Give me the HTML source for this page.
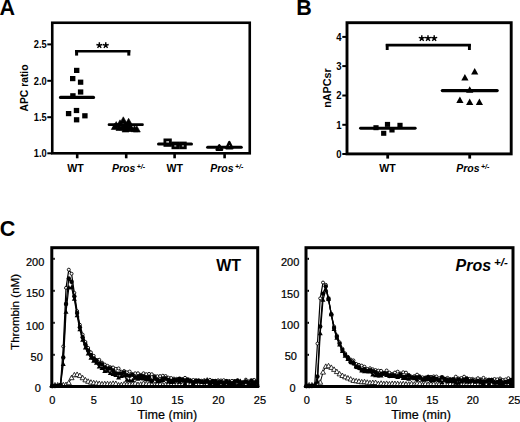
<!DOCTYPE html>
<html><head><meta charset="utf-8"><style>
html,body{margin:0;padding:0;background:#fff;}
svg{display:block;font-family:"Liberation Sans", sans-serif;}
</style></head><body>
<svg width="520" height="422" viewBox="0 0 520 422">
<rect width="520" height="422" fill="#fff"/>
<text x="-0.5" y="14.8" font-size="21.5" font-weight="bold" font-style="normal" text-anchor="start" >A</text>
<rect x="52.25" y="22.75" width="197.5" height="130.55" fill="none" stroke="#000" stroke-width="2.6"/>
<line x1="47.3" y1="44.4" x2="52.25" y2="44.4" stroke="#000" stroke-width="2" stroke-linecap="butt"/>
<text transform="translate(46.7,48.10) scale(0.86,1)" font-size="10.8" font-weight="bold" text-anchor="end">2.5</text>
<line x1="47.3" y1="80.8" x2="52.25" y2="80.8" stroke="#000" stroke-width="2" stroke-linecap="butt"/>
<text transform="translate(46.7,84.50) scale(0.86,1)" font-size="10.8" font-weight="bold" text-anchor="end">2.0</text>
<line x1="47.3" y1="117.2" x2="52.25" y2="117.2" stroke="#000" stroke-width="2" stroke-linecap="butt"/>
<text transform="translate(46.7,120.90) scale(0.86,1)" font-size="10.8" font-weight="bold" text-anchor="end">1.5</text>
<line x1="47.3" y1="153.3" x2="52.25" y2="153.3" stroke="#000" stroke-width="2" stroke-linecap="butt"/>
<text transform="translate(46.7,157.00) scale(0.86,1)" font-size="10.8" font-weight="bold" text-anchor="end">1.0</text>
<line x1="77.2" y1="153.3" x2="77.2" y2="158.3" stroke="#000" stroke-width="2.6" stroke-linecap="butt"/>
<line x1="126.2" y1="153.3" x2="126.2" y2="158.3" stroke="#000" stroke-width="2.6" stroke-linecap="butt"/>
<line x1="174.6" y1="153.3" x2="174.6" y2="158.3" stroke="#000" stroke-width="2.6" stroke-linecap="butt"/>
<line x1="224.6" y1="153.3" x2="224.6" y2="158.3" stroke="#000" stroke-width="2.6" stroke-linecap="butt"/>
<text x="75.5" y="171.5" font-size="10.6" font-weight="bold" font-style="normal" text-anchor="middle" >WT</text>
<text x="111.9" y="171.6" font-size="10.5" font-weight="bold" font-style="italic" text-anchor="start">Pros<tspan font-size="7" dx="1.4" dy="-2.6">+/-</tspan></text>
<text x="174.7" y="171.6" font-size="10.6" font-weight="bold" font-style="normal" text-anchor="middle" >WT</text>
<text x="210.2" y="171.6" font-size="10.5" font-weight="bold" font-style="italic" text-anchor="start">Pros<tspan font-size="7" dx="1.4" dy="-2.6">+/-</tspan></text>
<text transform="translate(28,88) rotate(-90)" x="0" y="0" font-size="10.3" font-weight="bold" text-anchor="middle">APC ratio</text>
<line x1="75.1" y1="51.25" x2="130.3" y2="51.25" stroke="#000" stroke-width="2.7" stroke-linecap="butt"/>
<line x1="76.6" y1="50" x2="76.6" y2="55.6" stroke="#000" stroke-width="3" stroke-linecap="butt"/>
<line x1="128.8" y1="50" x2="128.8" y2="55.6" stroke="#000" stroke-width="3" stroke-linecap="butt"/>
<path d="M99.35,45.40 L99.35,42.30 M99.35,45.40 L102.30,44.44 M99.35,45.40 L101.17,47.91 M99.35,45.40 L97.53,47.91 M99.35,45.40 L96.40,44.44 " stroke="#000" stroke-width="1.45" stroke-linecap="butt" fill="none"/>
<polygon points="99.35,43.70 99.90,44.65 100.97,44.87 100.23,45.69 100.35,46.78 99.35,46.33 98.35,46.78 98.47,45.69 97.73,44.87 98.80,44.65" fill="#000"/>
<path d="M105.75,45.40 L105.75,42.30 M105.75,45.40 L108.70,44.44 M105.75,45.40 L107.57,47.91 M105.75,45.40 L103.93,47.91 M105.75,45.40 L102.80,44.44 " stroke="#000" stroke-width="1.45" stroke-linecap="butt" fill="none"/>
<polygon points="105.75,43.70 106.30,44.65 107.37,44.87 106.63,45.69 106.75,46.78 105.75,46.33 104.75,46.78 104.87,45.69 104.13,44.87 105.20,44.65" fill="#000"/>
<rect x="74.0" y="67.80000000000001" width="5.4" height="5.2" fill="#000"/>
<rect x="70.0" y="76.0" width="5.4" height="5.2" fill="#000"/>
<rect x="77.89999999999999" y="79.60000000000001" width="5.4" height="5.2" fill="#000"/>
<rect x="77.89999999999999" y="89.4" width="5.4" height="5.2" fill="#000"/>
<rect x="70.2" y="93.2" width="5.4" height="5.2" fill="#000"/>
<rect x="73.8" y="107.9" width="5.4" height="5.2" fill="#000"/>
<rect x="65.89999999999999" y="111.0" width="5.4" height="5.2" fill="#000"/>
<rect x="82.2" y="113.2" width="5.4" height="5.2" fill="#000"/>
<rect x="73.89999999999999" y="117.2" width="5.4" height="5.2" fill="#000"/>
<line x1="60.5" y1="97.4" x2="93.5" y2="97.4" stroke="#000" stroke-width="3.2" stroke-linecap="round"/>
<polygon points="116.2,121.6 112.7,127.8 119.7,127.8" fill="#000" stroke="#000" stroke-width="0.6" stroke-linejoin="round"/>
<polygon points="114.8,123.3 111.3,129.5 118.3,129.5" fill="#000" stroke="#000" stroke-width="0.6" stroke-linejoin="round"/>
<polygon points="120,119.8 116.5,126.0 123.5,126.0" fill="#000" stroke="#000" stroke-width="0.6" stroke-linejoin="round"/>
<polygon points="123.3,116.8 119.8,123.0 126.8,123.0" fill="#000" stroke="#000" stroke-width="0.6" stroke-linejoin="round"/>
<polygon points="128.6,118.3 125.1,124.5 132.1,124.5" fill="#000" stroke="#000" stroke-width="0.6" stroke-linejoin="round"/>
<polygon points="125,121.8 121.5,128.0 128.5,128.0" fill="#000" stroke="#000" stroke-width="0.6" stroke-linejoin="round"/>
<polygon points="125.5,125.8 122.0,132.0 129.0,132.0" fill="#000" stroke="#000" stroke-width="0.6" stroke-linejoin="round"/>
<polygon points="131,125.3 127.5,131.5 134.5,131.5" fill="#000" stroke="#000" stroke-width="0.6" stroke-linejoin="round"/>
<polygon points="134.5,125.5 131.0,131.7 138.0,131.7" fill="#000" stroke="#000" stroke-width="0.6" stroke-linejoin="round"/>
<polygon points="136.8,125.8 133.3,132.0 140.3,132.0" fill="#000" stroke="#000" stroke-width="0.6" stroke-linejoin="round"/>
<polygon points="119.5,124.3 116.0,130.5 123.0,130.5" fill="#000" stroke="#000" stroke-width="0.6" stroke-linejoin="round"/>
<polygon points="122.5,123.8 119.0,130.0 126.0,130.0" fill="#000" stroke="#000" stroke-width="0.6" stroke-linejoin="round"/>
<polygon points="130,122.8 126.5,129.0 133.5,129.0" fill="#000" stroke="#000" stroke-width="0.6" stroke-linejoin="round"/>
<polygon points="127.5,124.8 124.0,131.0 131.0,131.0" fill="#000" stroke="#000" stroke-width="0.6" stroke-linejoin="round"/>
<line x1="109" y1="124.7" x2="142.5" y2="124.7" stroke="#000" stroke-width="2.7" stroke-linecap="round"/>
<rect x="164.9" y="139.9" width="5.5" height="5.5" fill="#fff" stroke="#000" stroke-width="2.8"/>
<rect x="172.9" y="143.0" width="4.8" height="4.8" fill="#fff" stroke="#000" stroke-width="2.8"/>
<rect x="180.5" y="143.0" width="4.8" height="4.8" fill="#fff" stroke="#000" stroke-width="2.8"/>
<line x1="158.5" y1="143.9" x2="191.5" y2="143.9" stroke="#000" stroke-width="3.0" stroke-linecap="round"/>
<polygon points="219.3,145.3 216.6,149.7 222.1,149.7" fill="#fff" stroke="#000" stroke-width="2.4" stroke-linejoin="round"/>
<polygon points="229.3,142.1 226.4,148.3 232.4,148.3" fill="#fff" stroke="#000" stroke-width="2.4" stroke-linejoin="round"/>
<line x1="207.6" y1="147.2" x2="241.3" y2="147.2" stroke="#000" stroke-width="3.0" stroke-linecap="round"/>
<text x="296.2" y="14.95" font-size="21.5" font-weight="bold" font-style="normal" text-anchor="start" >B</text>
<rect x="347.0" y="22.7" width="164.2" height="131.20000000000002" fill="none" stroke="#000" stroke-width="2.9"/>
<line x1="342.3" y1="36.9" x2="347.0" y2="36.9" stroke="#000" stroke-width="2" stroke-linecap="butt"/>
<text transform="translate(341.6,40.60) scale(0.9,1)" font-size="10.6" font-weight="bold" text-anchor="end">4</text>
<line x1="342.3" y1="66.1" x2="347.0" y2="66.1" stroke="#000" stroke-width="2" stroke-linecap="butt"/>
<text transform="translate(341.6,69.80) scale(0.9,1)" font-size="10.6" font-weight="bold" text-anchor="end">3</text>
<line x1="342.3" y1="95.5" x2="347.0" y2="95.5" stroke="#000" stroke-width="2" stroke-linecap="butt"/>
<text transform="translate(341.6,99.20) scale(0.9,1)" font-size="10.6" font-weight="bold" text-anchor="end">2</text>
<line x1="342.3" y1="124.8" x2="347.0" y2="124.8" stroke="#000" stroke-width="2" stroke-linecap="butt"/>
<text transform="translate(341.6,128.50) scale(0.9,1)" font-size="10.6" font-weight="bold" text-anchor="end">1</text>
<line x1="342.3" y1="154.0" x2="347.0" y2="154.0" stroke="#000" stroke-width="2" stroke-linecap="butt"/>
<text transform="translate(341.6,157.70) scale(0.9,1)" font-size="10.6" font-weight="bold" text-anchor="end">0</text>
<line x1="387.7" y1="153.9" x2="387.7" y2="158.6" stroke="#000" stroke-width="2.8" stroke-linecap="butt"/>
<line x1="469.7" y1="153.9" x2="469.7" y2="158.6" stroke="#000" stroke-width="2.8" stroke-linecap="butt"/>
<text x="387.6" y="171.6" font-size="10.6" font-weight="bold" font-style="normal" text-anchor="middle" >WT</text>
<text x="456.2" y="171.6" font-size="10.5" font-weight="bold" font-style="italic" text-anchor="start">Pros<tspan font-size="7" dx="1.4" dy="-2.6">+/-</tspan></text>
<text transform="translate(331.2,88.0) rotate(-90)" x="0" y="0" font-size="10.8" font-weight="bold" text-anchor="middle">nAPCsr</text>
<line x1="385.8" y1="45.15" x2="470.8" y2="45.15" stroke="#000" stroke-width="2.7" stroke-linecap="butt"/>
<line x1="387.2" y1="44" x2="387.2" y2="50" stroke="#000" stroke-width="2.9" stroke-linecap="butt"/>
<line x1="469.4" y1="44" x2="469.4" y2="50" stroke="#000" stroke-width="2.9" stroke-linecap="butt"/>
<path d="M421.80,38.30 L421.80,35.15 M421.80,38.30 L424.80,37.33 M421.80,38.30 L423.65,40.85 M421.80,38.30 L419.95,40.85 M421.80,38.30 L418.80,37.33 " stroke="#000" stroke-width="1.45" stroke-linecap="butt" fill="none"/>
<polygon points="421.80,36.57 422.36,37.54 423.45,37.76 422.70,38.59 422.82,39.70 421.80,39.24 420.78,39.70 420.90,38.59 420.15,37.76 421.24,37.54" fill="#000"/>
<path d="M428.00,38.30 L428.00,35.15 M428.00,38.30 L431.00,37.33 M428.00,38.30 L429.85,40.85 M428.00,38.30 L426.15,40.85 M428.00,38.30 L425.00,37.33 " stroke="#000" stroke-width="1.45" stroke-linecap="butt" fill="none"/>
<polygon points="428.00,36.57 428.56,37.54 429.65,37.76 428.90,38.59 429.02,39.70 428.00,39.24 426.98,39.70 427.10,38.59 426.35,37.76 427.44,37.54" fill="#000"/>
<path d="M434.20,38.30 L434.20,35.15 M434.20,38.30 L437.20,37.33 M434.20,38.30 L436.05,40.85 M434.20,38.30 L432.35,40.85 M434.20,38.30 L431.20,37.33 " stroke="#000" stroke-width="1.45" stroke-linecap="butt" fill="none"/>
<polygon points="434.20,36.57 434.76,37.54 435.85,37.76 435.10,38.59 435.22,39.70 434.20,39.24 433.18,39.70 433.30,38.59 432.55,37.76 433.64,37.54" fill="#000"/>
<rect x="373.4" y="125.2" width="5.2" height="5.0" fill="#000"/>
<rect x="384.9" y="121.9" width="5.2" height="5.0" fill="#000"/>
<rect x="389.4" y="127.5" width="5.2" height="5.0" fill="#000"/>
<rect x="381.09999999999997" y="130.8" width="5.2" height="5.0" fill="#000"/>
<rect x="397.4" y="122.8" width="5.2" height="5.0" fill="#000"/>
<line x1="360.5" y1="128.3" x2="415.2" y2="128.3" stroke="#000" stroke-width="2.9" stroke-linecap="round"/>
<polygon points="474.7,68.1 471.09999999999997,74.6 478.3,74.6" fill="#000"/>
<polygon points="464.9,74.1 461.29999999999995,80.6 468.5,80.6" fill="#000"/>
<polygon points="469.7,86.2 466.09999999999997,92.7 473.3,92.7" fill="#000"/>
<polygon points="459.9,96.6 456.29999999999995,103.1 463.5,103.1" fill="#000"/>
<polygon points="469.7,98.4 466.09999999999997,104.9 473.3,104.9" fill="#000"/>
<polygon points="479.4,98.4 475.79999999999995,104.9 483.0,104.9" fill="#000"/>
<line x1="442.3" y1="90.6" x2="497.2" y2="90.6" stroke="#000" stroke-width="3.2" stroke-linecap="round"/>
<g>
<path d="M52.20,385.20 L54.97,385.19 L57.73,385.14 L60.50,385.06 L63.27,384.95 L66.03,384.74 L68.80,382.92 L71.57,377.90 L74.33,375.05 L77.10,374.64 L79.87,375.75 L82.63,377.95 L85.40,380.07 L88.17,381.48 L90.93,382.39 L93.70,382.96 L96.47,383.30 L99.23,383.68 L102.00,384.03 L104.77,383.93 L107.53,383.91 L110.30,384.08 L113.07,383.53 L115.83,383.69 L118.60,385.15 L121.37,384.87 L124.13,384.24 L126.90,384.36 L129.67,384.14 L132.43,384.16 L135.20,383.45 L137.97,384.71 L140.73,384.45 L143.50,383.53 L146.27,384.09 L149.03,384.10 L151.80,384.57 L154.57,385.02 L157.33,384.34 L160.10,384.38 L162.87,384.91 L165.63,384.72 L168.40,384.50 L171.17,384.85 L173.93,384.54 L176.70,384.48 L179.47,384.52 L182.23,384.74 L185.00,384.34 L187.77,384.24 L190.53,384.47 L193.30,384.93 L196.07,384.35 L198.83,384.83 L201.60,384.32 L204.37,385.08 L207.13,384.33 L209.90,384.70 L212.67,385.19 L215.43,384.84 L218.20,384.72 L220.97,384.64 L223.73,385.14 L226.50,385.20 L229.27,384.71 L232.03,384.97 L234.80,384.72 L237.57,384.53 L240.33,385.46 L243.10,384.74 L245.87,384.38 L248.63,384.97 L251.40,385.17 L254.17,384.58 L256.93,384.78" fill="none" stroke="#000" stroke-width="1.0"/>
<polygon points="52.20,382.50 49.70,387.00 54.70,387.00" fill="#fff" stroke="#000" stroke-width="0.8"/>
<polygon points="54.97,382.49 52.47,386.99 57.47,386.99" fill="#fff" stroke="#000" stroke-width="0.8"/>
<polygon points="57.73,382.44 55.23,386.94 60.23,386.94" fill="#fff" stroke="#000" stroke-width="0.8"/>
<polygon points="60.50,382.36 58.00,386.86 63.00,386.86" fill="#fff" stroke="#000" stroke-width="0.8"/>
<polygon points="63.27,382.25 60.77,386.75 65.77,386.75" fill="#fff" stroke="#000" stroke-width="0.8"/>
<polygon points="66.03,382.04 63.53,386.54 68.53,386.54" fill="#fff" stroke="#000" stroke-width="0.8"/>
<polygon points="68.80,380.22 66.30,384.72 71.30,384.72" fill="#fff" stroke="#000" stroke-width="0.8"/>
<polygon points="71.57,375.20 69.07,379.70 74.07,379.70" fill="#fff" stroke="#000" stroke-width="0.8"/>
<polygon points="74.33,372.35 71.83,376.85 76.83,376.85" fill="#fff" stroke="#000" stroke-width="0.8"/>
<polygon points="77.10,371.94 74.60,376.44 79.60,376.44" fill="#fff" stroke="#000" stroke-width="0.8"/>
<polygon points="79.87,373.05 77.37,377.55 82.37,377.55" fill="#fff" stroke="#000" stroke-width="0.8"/>
<polygon points="82.63,375.25 80.13,379.75 85.13,379.75" fill="#fff" stroke="#000" stroke-width="0.8"/>
<polygon points="85.40,377.37 82.90,381.87 87.90,381.87" fill="#fff" stroke="#000" stroke-width="0.8"/>
<polygon points="88.17,378.78 85.67,383.28 90.67,383.28" fill="#fff" stroke="#000" stroke-width="0.8"/>
<polygon points="90.93,379.69 88.43,384.19 93.43,384.19" fill="#fff" stroke="#000" stroke-width="0.8"/>
<polygon points="93.70,380.26 91.20,384.76 96.20,384.76" fill="#fff" stroke="#000" stroke-width="0.8"/>
<polygon points="96.47,380.60 93.97,385.10 98.97,385.10" fill="#fff" stroke="#000" stroke-width="0.8"/>
<polygon points="99.23,380.98 96.73,385.48 101.73,385.48" fill="#fff" stroke="#000" stroke-width="0.8"/>
<polygon points="102.00,381.33 99.50,385.83 104.50,385.83" fill="#fff" stroke="#000" stroke-width="0.8"/>
<polygon points="104.77,381.23 102.27,385.73 107.27,385.73" fill="#fff" stroke="#000" stroke-width="0.8"/>
<polygon points="107.53,381.21 105.03,385.71 110.03,385.71" fill="#fff" stroke="#000" stroke-width="0.8"/>
<polygon points="110.30,381.38 107.80,385.88 112.80,385.88" fill="#fff" stroke="#000" stroke-width="0.8"/>
<polygon points="113.07,380.83 110.57,385.33 115.57,385.33" fill="#fff" stroke="#000" stroke-width="0.8"/>
<polygon points="115.83,380.99 113.33,385.49 118.33,385.49" fill="#fff" stroke="#000" stroke-width="0.8"/>
<polygon points="118.60,382.45 116.10,386.95 121.10,386.95" fill="#fff" stroke="#000" stroke-width="0.8"/>
<polygon points="121.37,382.17 118.87,386.67 123.87,386.67" fill="#fff" stroke="#000" stroke-width="0.8"/>
<polygon points="124.13,381.54 121.63,386.04 126.63,386.04" fill="#fff" stroke="#000" stroke-width="0.8"/>
<polygon points="126.90,381.66 124.40,386.16 129.40,386.16" fill="#fff" stroke="#000" stroke-width="0.8"/>
<polygon points="129.67,381.44 127.17,385.94 132.17,385.94" fill="#fff" stroke="#000" stroke-width="0.8"/>
<polygon points="132.43,381.46 129.93,385.96 134.93,385.96" fill="#fff" stroke="#000" stroke-width="0.8"/>
<polygon points="135.20,380.75 132.70,385.25 137.70,385.25" fill="#fff" stroke="#000" stroke-width="0.8"/>
<polygon points="137.97,382.01 135.47,386.51 140.47,386.51" fill="#fff" stroke="#000" stroke-width="0.8"/>
<polygon points="140.73,381.75 138.23,386.25 143.23,386.25" fill="#fff" stroke="#000" stroke-width="0.8"/>
<polygon points="143.50,380.83 141.00,385.33 146.00,385.33" fill="#fff" stroke="#000" stroke-width="0.8"/>
<polygon points="146.27,381.39 143.77,385.89 148.77,385.89" fill="#fff" stroke="#000" stroke-width="0.8"/>
<polygon points="149.03,381.40 146.53,385.90 151.53,385.90" fill="#fff" stroke="#000" stroke-width="0.8"/>
<polygon points="151.80,381.87 149.30,386.37 154.30,386.37" fill="#fff" stroke="#000" stroke-width="0.8"/>
<polygon points="154.57,382.32 152.07,386.82 157.07,386.82" fill="#fff" stroke="#000" stroke-width="0.8"/>
<polygon points="157.33,381.64 154.83,386.14 159.83,386.14" fill="#fff" stroke="#000" stroke-width="0.8"/>
<polygon points="160.10,381.68 157.60,386.18 162.60,386.18" fill="#fff" stroke="#000" stroke-width="0.8"/>
<polygon points="162.87,382.21 160.37,386.71 165.37,386.71" fill="#fff" stroke="#000" stroke-width="0.8"/>
<polygon points="165.63,382.02 163.13,386.52 168.13,386.52" fill="#fff" stroke="#000" stroke-width="0.8"/>
<polygon points="168.40,381.80 165.90,386.30 170.90,386.30" fill="#fff" stroke="#000" stroke-width="0.8"/>
<polygon points="171.17,382.15 168.67,386.65 173.67,386.65" fill="#fff" stroke="#000" stroke-width="0.8"/>
<polygon points="173.93,381.84 171.43,386.34 176.43,386.34" fill="#fff" stroke="#000" stroke-width="0.8"/>
<polygon points="176.70,381.78 174.20,386.28 179.20,386.28" fill="#fff" stroke="#000" stroke-width="0.8"/>
<polygon points="179.47,381.82 176.97,386.32 181.97,386.32" fill="#fff" stroke="#000" stroke-width="0.8"/>
<polygon points="182.23,382.04 179.73,386.54 184.73,386.54" fill="#fff" stroke="#000" stroke-width="0.8"/>
<polygon points="185.00,381.64 182.50,386.14 187.50,386.14" fill="#fff" stroke="#000" stroke-width="0.8"/>
<polygon points="187.77,381.54 185.27,386.04 190.27,386.04" fill="#fff" stroke="#000" stroke-width="0.8"/>
<polygon points="190.53,381.77 188.03,386.27 193.03,386.27" fill="#fff" stroke="#000" stroke-width="0.8"/>
<polygon points="193.30,382.23 190.80,386.73 195.80,386.73" fill="#fff" stroke="#000" stroke-width="0.8"/>
<polygon points="196.07,381.65 193.57,386.15 198.57,386.15" fill="#fff" stroke="#000" stroke-width="0.8"/>
<polygon points="198.83,382.13 196.33,386.63 201.33,386.63" fill="#fff" stroke="#000" stroke-width="0.8"/>
<polygon points="201.60,381.62 199.10,386.12 204.10,386.12" fill="#fff" stroke="#000" stroke-width="0.8"/>
<polygon points="204.37,382.38 201.87,386.88 206.87,386.88" fill="#fff" stroke="#000" stroke-width="0.8"/>
<polygon points="207.13,381.63 204.63,386.13 209.63,386.13" fill="#fff" stroke="#000" stroke-width="0.8"/>
<polygon points="209.90,382.00 207.40,386.50 212.40,386.50" fill="#fff" stroke="#000" stroke-width="0.8"/>
<polygon points="212.67,382.49 210.17,386.99 215.17,386.99" fill="#fff" stroke="#000" stroke-width="0.8"/>
<polygon points="215.43,382.14 212.93,386.64 217.93,386.64" fill="#fff" stroke="#000" stroke-width="0.8"/>
<polygon points="218.20,382.02 215.70,386.52 220.70,386.52" fill="#fff" stroke="#000" stroke-width="0.8"/>
<polygon points="220.97,381.94 218.47,386.44 223.47,386.44" fill="#fff" stroke="#000" stroke-width="0.8"/>
<polygon points="223.73,382.44 221.23,386.94 226.23,386.94" fill="#fff" stroke="#000" stroke-width="0.8"/>
<polygon points="226.50,382.50 224.00,387.00 229.00,387.00" fill="#fff" stroke="#000" stroke-width="0.8"/>
<polygon points="229.27,382.01 226.77,386.51 231.77,386.51" fill="#fff" stroke="#000" stroke-width="0.8"/>
<polygon points="232.03,382.27 229.53,386.77 234.53,386.77" fill="#fff" stroke="#000" stroke-width="0.8"/>
<polygon points="234.80,382.02 232.30,386.52 237.30,386.52" fill="#fff" stroke="#000" stroke-width="0.8"/>
<polygon points="237.57,381.83 235.07,386.33 240.07,386.33" fill="#fff" stroke="#000" stroke-width="0.8"/>
<polygon points="240.33,382.76 237.83,387.26 242.83,387.26" fill="#fff" stroke="#000" stroke-width="0.8"/>
<polygon points="243.10,382.04 240.60,386.54 245.60,386.54" fill="#fff" stroke="#000" stroke-width="0.8"/>
<polygon points="245.87,381.68 243.37,386.18 248.37,386.18" fill="#fff" stroke="#000" stroke-width="0.8"/>
<polygon points="248.63,382.27 246.13,386.77 251.13,386.77" fill="#fff" stroke="#000" stroke-width="0.8"/>
<polygon points="251.40,382.47 248.90,386.97 253.90,386.97" fill="#fff" stroke="#000" stroke-width="0.8"/>
<polygon points="254.17,381.88 251.67,386.38 256.67,386.38" fill="#fff" stroke="#000" stroke-width="0.8"/>
<polygon points="256.93,382.08 254.43,386.58 259.43,386.58" fill="#fff" stroke="#000" stroke-width="0.8"/>
<path d="M52.20,386.16 L54.97,386.08 L57.73,385.84 L60.50,384.51 L63.27,346.46 L66.03,287.90 L68.80,269.68 L71.57,273.73 L74.33,292.83 L77.10,311.10 L79.87,324.80 L82.63,334.59 L85.40,342.00 L88.17,347.94 L90.93,352.36 L93.70,355.85 L96.47,359.99 L99.23,359.77 L102.00,362.62 L104.77,364.58 L107.53,365.83 L110.30,367.14 L113.07,367.47 L115.83,368.83 L118.60,368.45 L121.37,371.75 L124.13,371.02 L126.90,372.30 L129.67,371.55 L132.43,374.24 L135.20,373.30 L137.97,373.26 L140.73,374.90 L143.50,373.32 L146.27,374.24 L149.03,373.90 L151.80,374.23 L154.57,376.01 L157.33,376.19 L160.10,376.08 L162.87,375.72 L165.63,376.05 L168.40,377.68 L171.17,378.03 L173.93,378.60 L176.70,378.83 L179.47,378.92 L182.23,379.16 L185.00,377.82 L187.77,380.13 L190.53,380.27 L193.30,379.98 L196.07,381.28 L198.83,380.97 L201.60,380.74 L204.37,380.21 L207.13,381.86 L209.90,379.83 L212.67,381.18 L215.43,380.81 L218.20,380.31 L220.97,380.48 L223.73,380.20 L226.50,380.91 L229.27,381.09 L232.03,380.86 L234.80,381.90 L237.57,380.23 L240.33,381.79 L243.10,382.19 L245.87,379.67 L248.63,381.38 L251.40,382.21 L254.17,379.91 L256.93,381.61" fill="none" stroke="#000" stroke-width="1.2"/>
<circle cx="52.20" cy="386.16" r="1.5" fill="#fff" stroke="#000" stroke-width="0.9"/>
<circle cx="54.97" cy="386.08" r="1.5" fill="#fff" stroke="#000" stroke-width="0.9"/>
<circle cx="57.73" cy="385.84" r="1.5" fill="#fff" stroke="#000" stroke-width="0.9"/>
<circle cx="60.50" cy="384.51" r="1.5" fill="#fff" stroke="#000" stroke-width="0.9"/>
<circle cx="63.27" cy="346.46" r="1.5" fill="#fff" stroke="#000" stroke-width="0.9"/>
<circle cx="66.03" cy="287.90" r="1.5" fill="#fff" stroke="#000" stroke-width="0.9"/>
<circle cx="68.80" cy="269.68" r="1.5" fill="#fff" stroke="#000" stroke-width="0.9"/>
<circle cx="71.57" cy="273.73" r="1.5" fill="#fff" stroke="#000" stroke-width="0.9"/>
<circle cx="74.33" cy="292.83" r="1.5" fill="#fff" stroke="#000" stroke-width="0.9"/>
<circle cx="77.10" cy="311.10" r="1.5" fill="#fff" stroke="#000" stroke-width="0.9"/>
<circle cx="79.87" cy="324.80" r="1.5" fill="#fff" stroke="#000" stroke-width="0.9"/>
<circle cx="82.63" cy="334.59" r="1.5" fill="#fff" stroke="#000" stroke-width="0.9"/>
<circle cx="85.40" cy="342.00" r="1.5" fill="#fff" stroke="#000" stroke-width="0.9"/>
<circle cx="88.17" cy="347.94" r="1.5" fill="#fff" stroke="#000" stroke-width="0.9"/>
<circle cx="90.93" cy="352.36" r="1.5" fill="#fff" stroke="#000" stroke-width="0.9"/>
<circle cx="93.70" cy="355.85" r="1.5" fill="#fff" stroke="#000" stroke-width="0.9"/>
<circle cx="96.47" cy="359.99" r="1.5" fill="#fff" stroke="#000" stroke-width="0.9"/>
<circle cx="99.23" cy="359.77" r="1.5" fill="#fff" stroke="#000" stroke-width="0.9"/>
<circle cx="102.00" cy="362.62" r="1.5" fill="#fff" stroke="#000" stroke-width="0.9"/>
<circle cx="104.77" cy="364.58" r="1.5" fill="#fff" stroke="#000" stroke-width="0.9"/>
<circle cx="107.53" cy="365.83" r="1.5" fill="#fff" stroke="#000" stroke-width="0.9"/>
<circle cx="110.30" cy="367.14" r="1.5" fill="#fff" stroke="#000" stroke-width="0.9"/>
<circle cx="113.07" cy="367.47" r="1.5" fill="#fff" stroke="#000" stroke-width="0.9"/>
<circle cx="115.83" cy="368.83" r="1.5" fill="#fff" stroke="#000" stroke-width="0.9"/>
<circle cx="118.60" cy="368.45" r="1.5" fill="#fff" stroke="#000" stroke-width="0.9"/>
<circle cx="121.37" cy="371.75" r="1.5" fill="#fff" stroke="#000" stroke-width="0.9"/>
<circle cx="124.13" cy="371.02" r="1.5" fill="#fff" stroke="#000" stroke-width="0.9"/>
<circle cx="126.90" cy="372.30" r="1.5" fill="#fff" stroke="#000" stroke-width="0.9"/>
<circle cx="129.67" cy="371.55" r="1.5" fill="#fff" stroke="#000" stroke-width="0.9"/>
<circle cx="132.43" cy="374.24" r="1.5" fill="#fff" stroke="#000" stroke-width="0.9"/>
<circle cx="135.20" cy="373.30" r="1.5" fill="#fff" stroke="#000" stroke-width="0.9"/>
<circle cx="137.97" cy="373.26" r="1.5" fill="#fff" stroke="#000" stroke-width="0.9"/>
<circle cx="140.73" cy="374.90" r="1.5" fill="#fff" stroke="#000" stroke-width="0.9"/>
<circle cx="143.50" cy="373.32" r="1.5" fill="#fff" stroke="#000" stroke-width="0.9"/>
<circle cx="146.27" cy="374.24" r="1.5" fill="#fff" stroke="#000" stroke-width="0.9"/>
<circle cx="149.03" cy="373.90" r="1.5" fill="#fff" stroke="#000" stroke-width="0.9"/>
<circle cx="151.80" cy="374.23" r="1.5" fill="#fff" stroke="#000" stroke-width="0.9"/>
<circle cx="154.57" cy="376.01" r="1.5" fill="#fff" stroke="#000" stroke-width="0.9"/>
<circle cx="157.33" cy="376.19" r="1.5" fill="#fff" stroke="#000" stroke-width="0.9"/>
<circle cx="160.10" cy="376.08" r="1.5" fill="#fff" stroke="#000" stroke-width="0.9"/>
<circle cx="162.87" cy="375.72" r="1.5" fill="#fff" stroke="#000" stroke-width="0.9"/>
<circle cx="165.63" cy="376.05" r="1.5" fill="#fff" stroke="#000" stroke-width="0.9"/>
<circle cx="168.40" cy="377.68" r="1.5" fill="#fff" stroke="#000" stroke-width="0.9"/>
<circle cx="171.17" cy="378.03" r="1.5" fill="#fff" stroke="#000" stroke-width="0.9"/>
<circle cx="173.93" cy="378.60" r="1.5" fill="#fff" stroke="#000" stroke-width="0.9"/>
<circle cx="176.70" cy="378.83" r="1.5" fill="#fff" stroke="#000" stroke-width="0.9"/>
<circle cx="179.47" cy="378.92" r="1.5" fill="#fff" stroke="#000" stroke-width="0.9"/>
<circle cx="182.23" cy="379.16" r="1.5" fill="#fff" stroke="#000" stroke-width="0.9"/>
<circle cx="185.00" cy="377.82" r="1.5" fill="#fff" stroke="#000" stroke-width="0.9"/>
<circle cx="187.77" cy="380.13" r="1.5" fill="#fff" stroke="#000" stroke-width="0.9"/>
<circle cx="190.53" cy="380.27" r="1.5" fill="#fff" stroke="#000" stroke-width="0.9"/>
<circle cx="193.30" cy="379.98" r="1.5" fill="#fff" stroke="#000" stroke-width="0.9"/>
<circle cx="196.07" cy="381.28" r="1.5" fill="#fff" stroke="#000" stroke-width="0.9"/>
<circle cx="198.83" cy="380.97" r="1.5" fill="#fff" stroke="#000" stroke-width="0.9"/>
<circle cx="201.60" cy="380.74" r="1.5" fill="#fff" stroke="#000" stroke-width="0.9"/>
<circle cx="204.37" cy="380.21" r="1.5" fill="#fff" stroke="#000" stroke-width="0.9"/>
<circle cx="207.13" cy="381.86" r="1.5" fill="#fff" stroke="#000" stroke-width="0.9"/>
<circle cx="209.90" cy="379.83" r="1.5" fill="#fff" stroke="#000" stroke-width="0.9"/>
<circle cx="212.67" cy="381.18" r="1.5" fill="#fff" stroke="#000" stroke-width="0.9"/>
<circle cx="215.43" cy="380.81" r="1.5" fill="#fff" stroke="#000" stroke-width="0.9"/>
<circle cx="218.20" cy="380.31" r="1.5" fill="#fff" stroke="#000" stroke-width="0.9"/>
<circle cx="220.97" cy="380.48" r="1.5" fill="#fff" stroke="#000" stroke-width="0.9"/>
<circle cx="223.73" cy="380.20" r="1.5" fill="#fff" stroke="#000" stroke-width="0.9"/>
<circle cx="226.50" cy="380.91" r="1.5" fill="#fff" stroke="#000" stroke-width="0.9"/>
<circle cx="229.27" cy="381.09" r="1.5" fill="#fff" stroke="#000" stroke-width="0.9"/>
<circle cx="232.03" cy="380.86" r="1.5" fill="#fff" stroke="#000" stroke-width="0.9"/>
<circle cx="234.80" cy="381.90" r="1.5" fill="#fff" stroke="#000" stroke-width="0.9"/>
<circle cx="237.57" cy="380.23" r="1.5" fill="#fff" stroke="#000" stroke-width="0.9"/>
<circle cx="240.33" cy="381.79" r="1.5" fill="#fff" stroke="#000" stroke-width="0.9"/>
<circle cx="243.10" cy="382.19" r="1.5" fill="#fff" stroke="#000" stroke-width="0.9"/>
<circle cx="245.87" cy="379.67" r="1.5" fill="#fff" stroke="#000" stroke-width="0.9"/>
<circle cx="248.63" cy="381.38" r="1.5" fill="#fff" stroke="#000" stroke-width="0.9"/>
<circle cx="251.40" cy="382.21" r="1.5" fill="#fff" stroke="#000" stroke-width="0.9"/>
<circle cx="254.17" cy="379.91" r="1.5" fill="#fff" stroke="#000" stroke-width="0.9"/>
<circle cx="256.93" cy="381.61" r="1.5" fill="#fff" stroke="#000" stroke-width="0.9"/>
<path d="M52.20,386.16 L54.97,386.11 L57.73,385.92 L60.50,385.31 L63.27,357.57 L66.03,303.96 L68.80,278.54 L71.57,281.75 L74.33,296.26 L77.10,313.09 L79.87,327.15 L82.63,337.18 L85.40,344.56 L88.17,350.50 L90.93,354.90 L93.70,358.36 L96.47,360.56 L99.23,363.69 L102.00,364.28 L104.77,367.36 L107.53,368.74 L110.30,368.49 L113.07,370.95 L115.83,373.16 L118.60,373.58 L121.37,373.41 L124.13,372.38 L126.90,375.41 L129.67,375.81 L132.43,374.74 L135.20,377.26 L137.97,376.90 L140.73,375.87 L143.50,376.52 L146.27,377.37 L149.03,376.99 L151.80,381.29 L154.57,377.12 L157.33,379.65 L160.10,380.72 L162.87,378.73 L165.63,378.49 L168.40,380.05 L171.17,381.00 L173.93,379.95 L176.70,380.24 L179.47,378.75 L182.23,379.67 L185.00,380.46 L187.77,379.56 L190.53,381.21 L193.30,382.17 L196.07,380.55 L198.83,380.65 L201.60,381.66 L204.37,382.40 L207.13,381.32 L209.90,384.53 L212.67,380.93 L215.43,381.23 L218.20,383.74 L220.97,381.84 L223.73,383.07 L226.50,381.13 L229.27,384.38 L232.03,383.13 L234.80,381.30 L237.57,380.82 L240.33,384.67 L243.10,382.79 L245.87,381.87 L248.63,382.97 L251.40,380.46 L254.17,383.68 L256.93,381.91" fill="none" stroke="#000" stroke-width="1.2"/>
<circle cx="52.20" cy="386.16" r="2.2" fill="#000"/>
<circle cx="54.97" cy="386.11" r="2.2" fill="#000"/>
<circle cx="57.73" cy="385.92" r="2.2" fill="#000"/>
<circle cx="60.50" cy="385.31" r="2.2" fill="#000"/>
<circle cx="63.27" cy="357.57" r="2.2" fill="#000"/>
<circle cx="66.03" cy="303.96" r="2.2" fill="#000"/>
<circle cx="68.80" cy="278.54" r="2.2" fill="#000"/>
<circle cx="71.57" cy="281.75" r="2.2" fill="#000"/>
<circle cx="74.33" cy="296.26" r="2.2" fill="#000"/>
<circle cx="77.10" cy="313.09" r="2.2" fill="#000"/>
<circle cx="79.87" cy="327.15" r="2.2" fill="#000"/>
<circle cx="82.63" cy="337.18" r="2.2" fill="#000"/>
<circle cx="85.40" cy="344.56" r="2.2" fill="#000"/>
<circle cx="88.17" cy="350.50" r="2.2" fill="#000"/>
<circle cx="90.93" cy="354.90" r="2.2" fill="#000"/>
<circle cx="93.70" cy="358.36" r="2.2" fill="#000"/>
<circle cx="96.47" cy="360.56" r="2.2" fill="#000"/>
<circle cx="99.23" cy="363.69" r="2.2" fill="#000"/>
<circle cx="102.00" cy="364.28" r="2.2" fill="#000"/>
<circle cx="104.77" cy="367.36" r="2.2" fill="#000"/>
<circle cx="107.53" cy="368.74" r="2.2" fill="#000"/>
<circle cx="110.30" cy="368.49" r="2.2" fill="#000"/>
<circle cx="113.07" cy="370.95" r="2.2" fill="#000"/>
<circle cx="115.83" cy="373.16" r="2.2" fill="#000"/>
<circle cx="118.60" cy="373.58" r="2.2" fill="#000"/>
<circle cx="121.37" cy="373.41" r="2.2" fill="#000"/>
<circle cx="124.13" cy="372.38" r="2.2" fill="#000"/>
<circle cx="126.90" cy="375.41" r="2.2" fill="#000"/>
<circle cx="129.67" cy="375.81" r="2.2" fill="#000"/>
<circle cx="132.43" cy="374.74" r="2.2" fill="#000"/>
<circle cx="135.20" cy="377.26" r="2.2" fill="#000"/>
<circle cx="137.97" cy="376.90" r="2.2" fill="#000"/>
<circle cx="140.73" cy="375.87" r="2.2" fill="#000"/>
<circle cx="143.50" cy="376.52" r="2.2" fill="#000"/>
<circle cx="146.27" cy="377.37" r="2.2" fill="#000"/>
<circle cx="149.03" cy="376.99" r="2.2" fill="#000"/>
<circle cx="151.80" cy="381.29" r="2.2" fill="#000"/>
<circle cx="154.57" cy="377.12" r="2.2" fill="#000"/>
<circle cx="157.33" cy="379.65" r="2.2" fill="#000"/>
<circle cx="160.10" cy="380.72" r="2.2" fill="#000"/>
<circle cx="162.87" cy="378.73" r="2.2" fill="#000"/>
<circle cx="165.63" cy="378.49" r="2.2" fill="#000"/>
<circle cx="168.40" cy="380.05" r="2.2" fill="#000"/>
<circle cx="171.17" cy="381.00" r="2.2" fill="#000"/>
<circle cx="173.93" cy="379.95" r="2.2" fill="#000"/>
<circle cx="176.70" cy="380.24" r="2.2" fill="#000"/>
<circle cx="179.47" cy="378.75" r="2.2" fill="#000"/>
<circle cx="182.23" cy="379.67" r="2.2" fill="#000"/>
<circle cx="185.00" cy="380.46" r="2.2" fill="#000"/>
<circle cx="187.77" cy="379.56" r="2.2" fill="#000"/>
<circle cx="190.53" cy="381.21" r="2.2" fill="#000"/>
<circle cx="193.30" cy="382.17" r="2.2" fill="#000"/>
<circle cx="196.07" cy="380.55" r="2.2" fill="#000"/>
<circle cx="198.83" cy="380.65" r="2.2" fill="#000"/>
<circle cx="201.60" cy="381.66" r="2.2" fill="#000"/>
<circle cx="204.37" cy="382.40" r="2.2" fill="#000"/>
<circle cx="207.13" cy="381.32" r="2.2" fill="#000"/>
<circle cx="209.90" cy="384.53" r="2.2" fill="#000"/>
<circle cx="212.67" cy="380.93" r="2.2" fill="#000"/>
<circle cx="215.43" cy="381.23" r="2.2" fill="#000"/>
<circle cx="218.20" cy="383.74" r="2.2" fill="#000"/>
<circle cx="220.97" cy="381.84" r="2.2" fill="#000"/>
<circle cx="223.73" cy="383.07" r="2.2" fill="#000"/>
<circle cx="226.50" cy="381.13" r="2.2" fill="#000"/>
<circle cx="229.27" cy="384.38" r="2.2" fill="#000"/>
<circle cx="232.03" cy="383.13" r="2.2" fill="#000"/>
<circle cx="234.80" cy="381.30" r="2.2" fill="#000"/>
<circle cx="237.57" cy="380.82" r="2.2" fill="#000"/>
<circle cx="240.33" cy="384.67" r="2.2" fill="#000"/>
<circle cx="243.10" cy="382.79" r="2.2" fill="#000"/>
<circle cx="245.87" cy="381.87" r="2.2" fill="#000"/>
<circle cx="248.63" cy="382.97" r="2.2" fill="#000"/>
<circle cx="251.40" cy="380.46" r="2.2" fill="#000"/>
<circle cx="254.17" cy="383.68" r="2.2" fill="#000"/>
<circle cx="256.93" cy="381.91" r="2.2" fill="#000"/>
<path d="M52.20,386.16 L54.97,386.11 L57.73,385.93 L60.50,385.52 L63.27,364.42 L66.03,312.01 L68.80,287.60 L71.57,287.60 L74.33,299.14 L77.10,315.64 L79.87,329.65 L82.63,339.99 L85.40,347.76 L88.17,353.77 L90.93,357.96 L93.70,361.03 L96.47,363.07 L99.23,366.89 L102.00,368.29 L104.77,371.36 L107.53,371.03 L110.30,373.29 L113.07,374.40 L115.83,375.30 L118.60,377.75 L121.37,376.38 L124.13,375.48 L126.90,380.16 L129.67,380.61 L132.43,380.63 L135.20,378.15 L137.97,379.16 L140.73,378.23 L143.50,378.78 L146.27,379.50 L149.03,379.54 L151.80,380.19 L154.57,379.12 L157.33,381.55 L160.10,380.89 L162.87,380.29 L165.63,378.68 L168.40,381.84 L171.17,382.40 L173.93,381.99 L176.70,380.40 L179.47,381.93 L182.23,380.25 L185.00,384.04 L187.77,380.69 L190.53,380.89 L193.30,383.80 L196.07,382.06 L198.83,380.90 L201.60,382.25 L204.37,381.24 L207.13,379.69 L209.90,382.15 L212.67,382.82 L215.43,383.41 L218.20,381.81 L220.97,382.81 L223.73,382.82 L226.50,382.76 L229.27,381.92 L232.03,383.93 L234.80,384.49 L237.57,385.56 L240.33,381.41 L243.10,382.73 L245.87,381.11 L248.63,382.89 L251.40,383.76 L254.17,382.38 L256.93,383.05" fill="none" stroke="#000" stroke-width="1.2"/>
<polygon points="52.20,383.36 54.70,387.86 49.70,387.86" fill="#000"/>
<polygon points="54.97,383.31 57.47,387.81 52.47,387.81" fill="#000"/>
<polygon points="57.73,383.13 60.23,387.63 55.23,387.63" fill="#000"/>
<polygon points="60.50,382.72 63.00,387.22 58.00,387.22" fill="#000"/>
<polygon points="63.27,361.62 65.77,366.12 60.77,366.12" fill="#000"/>
<polygon points="66.03,309.21 68.53,313.71 63.53,313.71" fill="#000"/>
<polygon points="68.80,284.80 71.30,289.30 66.30,289.30" fill="#000"/>
<polygon points="71.57,284.80 74.07,289.30 69.07,289.30" fill="#000"/>
<polygon points="74.33,296.34 76.83,300.84 71.83,300.84" fill="#000"/>
<polygon points="77.10,312.84 79.60,317.34 74.60,317.34" fill="#000"/>
<polygon points="79.87,326.85 82.37,331.35 77.37,331.35" fill="#000"/>
<polygon points="82.63,337.19 85.13,341.69 80.13,341.69" fill="#000"/>
<polygon points="85.40,344.96 87.90,349.46 82.90,349.46" fill="#000"/>
<polygon points="88.17,350.97 90.67,355.47 85.67,355.47" fill="#000"/>
<polygon points="90.93,355.16 93.43,359.66 88.43,359.66" fill="#000"/>
<polygon points="93.70,358.23 96.20,362.73 91.20,362.73" fill="#000"/>
<polygon points="96.47,360.27 98.97,364.77 93.97,364.77" fill="#000"/>
<polygon points="99.23,364.09 101.73,368.59 96.73,368.59" fill="#000"/>
<polygon points="102.00,365.49 104.50,369.99 99.50,369.99" fill="#000"/>
<polygon points="104.77,368.56 107.27,373.06 102.27,373.06" fill="#000"/>
<polygon points="107.53,368.23 110.03,372.73 105.03,372.73" fill="#000"/>
<polygon points="110.30,370.49 112.80,374.99 107.80,374.99" fill="#000"/>
<polygon points="113.07,371.60 115.57,376.10 110.57,376.10" fill="#000"/>
<polygon points="115.83,372.50 118.33,377.00 113.33,377.00" fill="#000"/>
<polygon points="118.60,374.95 121.10,379.45 116.10,379.45" fill="#000"/>
<polygon points="121.37,373.58 123.87,378.08 118.87,378.08" fill="#000"/>
<polygon points="124.13,372.68 126.63,377.18 121.63,377.18" fill="#000"/>
<polygon points="126.90,377.36 129.40,381.86 124.40,381.86" fill="#000"/>
<polygon points="129.67,377.81 132.17,382.31 127.17,382.31" fill="#000"/>
<polygon points="132.43,377.83 134.93,382.33 129.93,382.33" fill="#000"/>
<polygon points="135.20,375.35 137.70,379.85 132.70,379.85" fill="#000"/>
<polygon points="137.97,376.36 140.47,380.86 135.47,380.86" fill="#000"/>
<polygon points="140.73,375.43 143.23,379.93 138.23,379.93" fill="#000"/>
<polygon points="143.50,375.98 146.00,380.48 141.00,380.48" fill="#000"/>
<polygon points="146.27,376.70 148.77,381.20 143.77,381.20" fill="#000"/>
<polygon points="149.03,376.74 151.53,381.24 146.53,381.24" fill="#000"/>
<polygon points="151.80,377.39 154.30,381.89 149.30,381.89" fill="#000"/>
<polygon points="154.57,376.32 157.07,380.82 152.07,380.82" fill="#000"/>
<polygon points="157.33,378.75 159.83,383.25 154.83,383.25" fill="#000"/>
<polygon points="160.10,378.09 162.60,382.59 157.60,382.59" fill="#000"/>
<polygon points="162.87,377.49 165.37,381.99 160.37,381.99" fill="#000"/>
<polygon points="165.63,375.88 168.13,380.38 163.13,380.38" fill="#000"/>
<polygon points="168.40,379.04 170.90,383.54 165.90,383.54" fill="#000"/>
<polygon points="171.17,379.60 173.67,384.10 168.67,384.10" fill="#000"/>
<polygon points="173.93,379.19 176.43,383.69 171.43,383.69" fill="#000"/>
<polygon points="176.70,377.60 179.20,382.10 174.20,382.10" fill="#000"/>
<polygon points="179.47,379.13 181.97,383.63 176.97,383.63" fill="#000"/>
<polygon points="182.23,377.45 184.73,381.95 179.73,381.95" fill="#000"/>
<polygon points="185.00,381.24 187.50,385.74 182.50,385.74" fill="#000"/>
<polygon points="187.77,377.89 190.27,382.39 185.27,382.39" fill="#000"/>
<polygon points="190.53,378.09 193.03,382.59 188.03,382.59" fill="#000"/>
<polygon points="193.30,381.00 195.80,385.50 190.80,385.50" fill="#000"/>
<polygon points="196.07,379.26 198.57,383.76 193.57,383.76" fill="#000"/>
<polygon points="198.83,378.10 201.33,382.60 196.33,382.60" fill="#000"/>
<polygon points="201.60,379.45 204.10,383.95 199.10,383.95" fill="#000"/>
<polygon points="204.37,378.44 206.87,382.94 201.87,382.94" fill="#000"/>
<polygon points="207.13,376.89 209.63,381.39 204.63,381.39" fill="#000"/>
<polygon points="209.90,379.35 212.40,383.85 207.40,383.85" fill="#000"/>
<polygon points="212.67,380.02 215.17,384.52 210.17,384.52" fill="#000"/>
<polygon points="215.43,380.61 217.93,385.11 212.93,385.11" fill="#000"/>
<polygon points="218.20,379.01 220.70,383.51 215.70,383.51" fill="#000"/>
<polygon points="220.97,380.01 223.47,384.51 218.47,384.51" fill="#000"/>
<polygon points="223.73,380.02 226.23,384.52 221.23,384.52" fill="#000"/>
<polygon points="226.50,379.96 229.00,384.46 224.00,384.46" fill="#000"/>
<polygon points="229.27,379.12 231.77,383.62 226.77,383.62" fill="#000"/>
<polygon points="232.03,381.13 234.53,385.63 229.53,385.63" fill="#000"/>
<polygon points="234.80,381.69 237.30,386.19 232.30,386.19" fill="#000"/>
<polygon points="237.57,382.76 240.07,387.26 235.07,387.26" fill="#000"/>
<polygon points="240.33,378.61 242.83,383.11 237.83,383.11" fill="#000"/>
<polygon points="243.10,379.93 245.60,384.43 240.60,384.43" fill="#000"/>
<polygon points="245.87,378.31 248.37,382.81 243.37,382.81" fill="#000"/>
<polygon points="248.63,380.09 251.13,384.59 246.13,384.59" fill="#000"/>
<polygon points="251.40,380.96 253.90,385.46 248.90,385.46" fill="#000"/>
<polygon points="254.17,379.58 256.67,384.08 251.67,384.08" fill="#000"/>
<polygon points="256.93,380.25 259.43,384.75 254.43,384.75" fill="#000"/>
<path d="M306.40,385.20 L309.17,385.19 L311.93,385.16 L314.70,385.08 L317.47,384.96 L320.23,382.39 L323.00,372.31 L325.77,366.57 L328.53,366.02 L331.30,367.60 L334.07,369.57 L336.83,371.79 L339.60,374.07 L342.37,375.73 L345.13,377.03 L347.90,378.18 L350.67,379.24 L353.43,380.61 L356.20,381.03 L358.97,381.50 L361.73,382.04 L364.50,381.93 L367.27,382.47 L370.03,382.91 L372.80,382.72 L375.57,382.73 L378.33,383.84 L381.10,383.44 L383.87,383.83 L386.63,383.61 L389.40,384.10 L392.17,383.64 L394.93,383.70 L397.70,383.85 L400.47,384.17 L403.23,383.96 L406.00,384.27 L408.77,384.41 L411.53,383.84 L414.30,384.39 L417.07,383.55 L419.83,383.75 L422.60,384.83 L425.37,383.99 L428.13,384.55 L430.90,384.14 L433.67,384.16 L436.43,384.97 L439.20,384.32 L441.97,384.36 L444.73,383.91 L447.50,384.76 L450.27,384.04 L453.03,384.77 L455.80,384.50 L458.57,384.71 L461.33,383.85 L464.10,384.20 L466.87,383.50 L469.63,384.21 L472.40,384.14 L475.17,384.16 L477.93,384.72 L480.70,384.53 L483.47,383.99 L486.23,384.67 L489.00,384.46 L491.77,384.54 L494.53,384.31 L497.30,384.69 L500.07,384.61 L502.83,384.46 L505.60,384.52 L508.37,384.89 L511.13,384.22" fill="none" stroke="#000" stroke-width="1.0"/>
<polygon points="306.40,382.50 303.90,387.00 308.90,387.00" fill="#fff" stroke="#000" stroke-width="0.8"/>
<polygon points="309.17,382.49 306.67,386.99 311.67,386.99" fill="#fff" stroke="#000" stroke-width="0.8"/>
<polygon points="311.93,382.46 309.43,386.96 314.43,386.96" fill="#fff" stroke="#000" stroke-width="0.8"/>
<polygon points="314.70,382.38 312.20,386.88 317.20,386.88" fill="#fff" stroke="#000" stroke-width="0.8"/>
<polygon points="317.47,382.26 314.97,386.76 319.97,386.76" fill="#fff" stroke="#000" stroke-width="0.8"/>
<polygon points="320.23,379.69 317.73,384.19 322.73,384.19" fill="#fff" stroke="#000" stroke-width="0.8"/>
<polygon points="323.00,369.61 320.50,374.11 325.50,374.11" fill="#fff" stroke="#000" stroke-width="0.8"/>
<polygon points="325.77,363.87 323.27,368.37 328.27,368.37" fill="#fff" stroke="#000" stroke-width="0.8"/>
<polygon points="328.53,363.32 326.03,367.82 331.03,367.82" fill="#fff" stroke="#000" stroke-width="0.8"/>
<polygon points="331.30,364.90 328.80,369.40 333.80,369.40" fill="#fff" stroke="#000" stroke-width="0.8"/>
<polygon points="334.07,366.87 331.57,371.37 336.57,371.37" fill="#fff" stroke="#000" stroke-width="0.8"/>
<polygon points="336.83,369.09 334.33,373.59 339.33,373.59" fill="#fff" stroke="#000" stroke-width="0.8"/>
<polygon points="339.60,371.37 337.10,375.87 342.10,375.87" fill="#fff" stroke="#000" stroke-width="0.8"/>
<polygon points="342.37,373.03 339.87,377.53 344.87,377.53" fill="#fff" stroke="#000" stroke-width="0.8"/>
<polygon points="345.13,374.33 342.63,378.83 347.63,378.83" fill="#fff" stroke="#000" stroke-width="0.8"/>
<polygon points="347.90,375.48 345.40,379.98 350.40,379.98" fill="#fff" stroke="#000" stroke-width="0.8"/>
<polygon points="350.67,376.54 348.17,381.04 353.17,381.04" fill="#fff" stroke="#000" stroke-width="0.8"/>
<polygon points="353.43,377.91 350.93,382.41 355.93,382.41" fill="#fff" stroke="#000" stroke-width="0.8"/>
<polygon points="356.20,378.33 353.70,382.83 358.70,382.83" fill="#fff" stroke="#000" stroke-width="0.8"/>
<polygon points="358.97,378.80 356.47,383.30 361.47,383.30" fill="#fff" stroke="#000" stroke-width="0.8"/>
<polygon points="361.73,379.34 359.23,383.84 364.23,383.84" fill="#fff" stroke="#000" stroke-width="0.8"/>
<polygon points="364.50,379.23 362.00,383.73 367.00,383.73" fill="#fff" stroke="#000" stroke-width="0.8"/>
<polygon points="367.27,379.77 364.77,384.27 369.77,384.27" fill="#fff" stroke="#000" stroke-width="0.8"/>
<polygon points="370.03,380.21 367.53,384.71 372.53,384.71" fill="#fff" stroke="#000" stroke-width="0.8"/>
<polygon points="372.80,380.02 370.30,384.52 375.30,384.52" fill="#fff" stroke="#000" stroke-width="0.8"/>
<polygon points="375.57,380.03 373.07,384.53 378.07,384.53" fill="#fff" stroke="#000" stroke-width="0.8"/>
<polygon points="378.33,381.14 375.83,385.64 380.83,385.64" fill="#fff" stroke="#000" stroke-width="0.8"/>
<polygon points="381.10,380.74 378.60,385.24 383.60,385.24" fill="#fff" stroke="#000" stroke-width="0.8"/>
<polygon points="383.87,381.13 381.37,385.63 386.37,385.63" fill="#fff" stroke="#000" stroke-width="0.8"/>
<polygon points="386.63,380.91 384.13,385.41 389.13,385.41" fill="#fff" stroke="#000" stroke-width="0.8"/>
<polygon points="389.40,381.40 386.90,385.90 391.90,385.90" fill="#fff" stroke="#000" stroke-width="0.8"/>
<polygon points="392.17,380.94 389.67,385.44 394.67,385.44" fill="#fff" stroke="#000" stroke-width="0.8"/>
<polygon points="394.93,381.00 392.43,385.50 397.43,385.50" fill="#fff" stroke="#000" stroke-width="0.8"/>
<polygon points="397.70,381.15 395.20,385.65 400.20,385.65" fill="#fff" stroke="#000" stroke-width="0.8"/>
<polygon points="400.47,381.47 397.97,385.97 402.97,385.97" fill="#fff" stroke="#000" stroke-width="0.8"/>
<polygon points="403.23,381.26 400.73,385.76 405.73,385.76" fill="#fff" stroke="#000" stroke-width="0.8"/>
<polygon points="406.00,381.57 403.50,386.07 408.50,386.07" fill="#fff" stroke="#000" stroke-width="0.8"/>
<polygon points="408.77,381.71 406.27,386.21 411.27,386.21" fill="#fff" stroke="#000" stroke-width="0.8"/>
<polygon points="411.53,381.14 409.03,385.64 414.03,385.64" fill="#fff" stroke="#000" stroke-width="0.8"/>
<polygon points="414.30,381.69 411.80,386.19 416.80,386.19" fill="#fff" stroke="#000" stroke-width="0.8"/>
<polygon points="417.07,380.85 414.57,385.35 419.57,385.35" fill="#fff" stroke="#000" stroke-width="0.8"/>
<polygon points="419.83,381.05 417.33,385.55 422.33,385.55" fill="#fff" stroke="#000" stroke-width="0.8"/>
<polygon points="422.60,382.13 420.10,386.63 425.10,386.63" fill="#fff" stroke="#000" stroke-width="0.8"/>
<polygon points="425.37,381.29 422.87,385.79 427.87,385.79" fill="#fff" stroke="#000" stroke-width="0.8"/>
<polygon points="428.13,381.85 425.63,386.35 430.63,386.35" fill="#fff" stroke="#000" stroke-width="0.8"/>
<polygon points="430.90,381.44 428.40,385.94 433.40,385.94" fill="#fff" stroke="#000" stroke-width="0.8"/>
<polygon points="433.67,381.46 431.17,385.96 436.17,385.96" fill="#fff" stroke="#000" stroke-width="0.8"/>
<polygon points="436.43,382.27 433.93,386.77 438.93,386.77" fill="#fff" stroke="#000" stroke-width="0.8"/>
<polygon points="439.20,381.62 436.70,386.12 441.70,386.12" fill="#fff" stroke="#000" stroke-width="0.8"/>
<polygon points="441.97,381.66 439.47,386.16 444.47,386.16" fill="#fff" stroke="#000" stroke-width="0.8"/>
<polygon points="444.73,381.21 442.23,385.71 447.23,385.71" fill="#fff" stroke="#000" stroke-width="0.8"/>
<polygon points="447.50,382.06 445.00,386.56 450.00,386.56" fill="#fff" stroke="#000" stroke-width="0.8"/>
<polygon points="450.27,381.34 447.77,385.84 452.77,385.84" fill="#fff" stroke="#000" stroke-width="0.8"/>
<polygon points="453.03,382.07 450.53,386.57 455.53,386.57" fill="#fff" stroke="#000" stroke-width="0.8"/>
<polygon points="455.80,381.80 453.30,386.30 458.30,386.30" fill="#fff" stroke="#000" stroke-width="0.8"/>
<polygon points="458.57,382.01 456.07,386.51 461.07,386.51" fill="#fff" stroke="#000" stroke-width="0.8"/>
<polygon points="461.33,381.15 458.83,385.65 463.83,385.65" fill="#fff" stroke="#000" stroke-width="0.8"/>
<polygon points="464.10,381.50 461.60,386.00 466.60,386.00" fill="#fff" stroke="#000" stroke-width="0.8"/>
<polygon points="466.87,380.80 464.37,385.30 469.37,385.30" fill="#fff" stroke="#000" stroke-width="0.8"/>
<polygon points="469.63,381.51 467.13,386.01 472.13,386.01" fill="#fff" stroke="#000" stroke-width="0.8"/>
<polygon points="472.40,381.44 469.90,385.94 474.90,385.94" fill="#fff" stroke="#000" stroke-width="0.8"/>
<polygon points="475.17,381.46 472.67,385.96 477.67,385.96" fill="#fff" stroke="#000" stroke-width="0.8"/>
<polygon points="477.93,382.02 475.43,386.52 480.43,386.52" fill="#fff" stroke="#000" stroke-width="0.8"/>
<polygon points="480.70,381.83 478.20,386.33 483.20,386.33" fill="#fff" stroke="#000" stroke-width="0.8"/>
<polygon points="483.47,381.29 480.97,385.79 485.97,385.79" fill="#fff" stroke="#000" stroke-width="0.8"/>
<polygon points="486.23,381.97 483.73,386.47 488.73,386.47" fill="#fff" stroke="#000" stroke-width="0.8"/>
<polygon points="489.00,381.76 486.50,386.26 491.50,386.26" fill="#fff" stroke="#000" stroke-width="0.8"/>
<polygon points="491.77,381.84 489.27,386.34 494.27,386.34" fill="#fff" stroke="#000" stroke-width="0.8"/>
<polygon points="494.53,381.61 492.03,386.11 497.03,386.11" fill="#fff" stroke="#000" stroke-width="0.8"/>
<polygon points="497.30,381.99 494.80,386.49 499.80,386.49" fill="#fff" stroke="#000" stroke-width="0.8"/>
<polygon points="500.07,381.91 497.57,386.41 502.57,386.41" fill="#fff" stroke="#000" stroke-width="0.8"/>
<polygon points="502.83,381.76 500.33,386.26 505.33,386.26" fill="#fff" stroke="#000" stroke-width="0.8"/>
<polygon points="505.60,381.82 503.10,386.32 508.10,386.32" fill="#fff" stroke="#000" stroke-width="0.8"/>
<polygon points="508.37,382.19 505.87,386.69 510.87,386.69" fill="#fff" stroke="#000" stroke-width="0.8"/>
<polygon points="511.13,381.52 508.63,386.02 513.63,386.02" fill="#fff" stroke="#000" stroke-width="0.8"/>
<path d="M306.40,386.16 L309.17,386.13 L311.93,386.00 L314.70,385.26 L317.47,343.55 L320.23,298.36 L323.00,282.55 L325.77,284.81 L328.53,299.79 L331.30,314.48 L334.07,326.48 L336.83,335.46 L339.60,342.34 L342.37,348.68 L345.13,353.39 L347.90,356.82 L350.67,359.51 L353.43,360.42 L356.20,363.90 L358.97,364.93 L361.73,365.63 L364.50,366.71 L367.27,369.03 L370.03,368.26 L372.80,369.33 L375.57,370.09 L378.33,370.61 L381.10,370.82 L383.87,372.78 L386.63,370.51 L389.40,372.65 L392.17,373.99 L394.93,372.59 L397.70,371.66 L400.47,373.47 L403.23,372.24 L406.00,372.64 L408.77,374.94 L411.53,376.62 L414.30,376.11 L417.07,374.65 L419.83,376.52 L422.60,377.33 L425.37,377.46 L428.13,376.67 L430.90,376.91 L433.67,376.43 L436.43,376.53 L439.20,378.19 L441.97,377.75 L444.73,378.66 L447.50,377.88 L450.27,378.95 L453.03,379.12 L455.80,376.68 L458.57,378.40 L461.33,378.04 L464.10,376.68 L466.87,378.12 L469.63,378.90 L472.40,378.85 L475.17,379.55 L477.93,378.21 L480.70,379.37 L483.47,377.84 L486.23,379.52 L489.00,379.59 L491.77,379.71 L494.53,378.97 L497.30,379.36 L500.07,378.51 L502.83,380.04 L505.60,379.44 L508.37,378.22 L511.13,379.94" fill="none" stroke="#000" stroke-width="1.2"/>
<circle cx="306.40" cy="386.16" r="1.5" fill="#fff" stroke="#000" stroke-width="0.9"/>
<circle cx="309.17" cy="386.13" r="1.5" fill="#fff" stroke="#000" stroke-width="0.9"/>
<circle cx="311.93" cy="386.00" r="1.5" fill="#fff" stroke="#000" stroke-width="0.9"/>
<circle cx="314.70" cy="385.26" r="1.5" fill="#fff" stroke="#000" stroke-width="0.9"/>
<circle cx="317.47" cy="343.55" r="1.5" fill="#fff" stroke="#000" stroke-width="0.9"/>
<circle cx="320.23" cy="298.36" r="1.5" fill="#fff" stroke="#000" stroke-width="0.9"/>
<circle cx="323.00" cy="282.55" r="1.5" fill="#fff" stroke="#000" stroke-width="0.9"/>
<circle cx="325.77" cy="284.81" r="1.5" fill="#fff" stroke="#000" stroke-width="0.9"/>
<circle cx="328.53" cy="299.79" r="1.5" fill="#fff" stroke="#000" stroke-width="0.9"/>
<circle cx="331.30" cy="314.48" r="1.5" fill="#fff" stroke="#000" stroke-width="0.9"/>
<circle cx="334.07" cy="326.48" r="1.5" fill="#fff" stroke="#000" stroke-width="0.9"/>
<circle cx="336.83" cy="335.46" r="1.5" fill="#fff" stroke="#000" stroke-width="0.9"/>
<circle cx="339.60" cy="342.34" r="1.5" fill="#fff" stroke="#000" stroke-width="0.9"/>
<circle cx="342.37" cy="348.68" r="1.5" fill="#fff" stroke="#000" stroke-width="0.9"/>
<circle cx="345.13" cy="353.39" r="1.5" fill="#fff" stroke="#000" stroke-width="0.9"/>
<circle cx="347.90" cy="356.82" r="1.5" fill="#fff" stroke="#000" stroke-width="0.9"/>
<circle cx="350.67" cy="359.51" r="1.5" fill="#fff" stroke="#000" stroke-width="0.9"/>
<circle cx="353.43" cy="360.42" r="1.5" fill="#fff" stroke="#000" stroke-width="0.9"/>
<circle cx="356.20" cy="363.90" r="1.5" fill="#fff" stroke="#000" stroke-width="0.9"/>
<circle cx="358.97" cy="364.93" r="1.5" fill="#fff" stroke="#000" stroke-width="0.9"/>
<circle cx="361.73" cy="365.63" r="1.5" fill="#fff" stroke="#000" stroke-width="0.9"/>
<circle cx="364.50" cy="366.71" r="1.5" fill="#fff" stroke="#000" stroke-width="0.9"/>
<circle cx="367.27" cy="369.03" r="1.5" fill="#fff" stroke="#000" stroke-width="0.9"/>
<circle cx="370.03" cy="368.26" r="1.5" fill="#fff" stroke="#000" stroke-width="0.9"/>
<circle cx="372.80" cy="369.33" r="1.5" fill="#fff" stroke="#000" stroke-width="0.9"/>
<circle cx="375.57" cy="370.09" r="1.5" fill="#fff" stroke="#000" stroke-width="0.9"/>
<circle cx="378.33" cy="370.61" r="1.5" fill="#fff" stroke="#000" stroke-width="0.9"/>
<circle cx="381.10" cy="370.82" r="1.5" fill="#fff" stroke="#000" stroke-width="0.9"/>
<circle cx="383.87" cy="372.78" r="1.5" fill="#fff" stroke="#000" stroke-width="0.9"/>
<circle cx="386.63" cy="370.51" r="1.5" fill="#fff" stroke="#000" stroke-width="0.9"/>
<circle cx="389.40" cy="372.65" r="1.5" fill="#fff" stroke="#000" stroke-width="0.9"/>
<circle cx="392.17" cy="373.99" r="1.5" fill="#fff" stroke="#000" stroke-width="0.9"/>
<circle cx="394.93" cy="372.59" r="1.5" fill="#fff" stroke="#000" stroke-width="0.9"/>
<circle cx="397.70" cy="371.66" r="1.5" fill="#fff" stroke="#000" stroke-width="0.9"/>
<circle cx="400.47" cy="373.47" r="1.5" fill="#fff" stroke="#000" stroke-width="0.9"/>
<circle cx="403.23" cy="372.24" r="1.5" fill="#fff" stroke="#000" stroke-width="0.9"/>
<circle cx="406.00" cy="372.64" r="1.5" fill="#fff" stroke="#000" stroke-width="0.9"/>
<circle cx="408.77" cy="374.94" r="1.5" fill="#fff" stroke="#000" stroke-width="0.9"/>
<circle cx="411.53" cy="376.62" r="1.5" fill="#fff" stroke="#000" stroke-width="0.9"/>
<circle cx="414.30" cy="376.11" r="1.5" fill="#fff" stroke="#000" stroke-width="0.9"/>
<circle cx="417.07" cy="374.65" r="1.5" fill="#fff" stroke="#000" stroke-width="0.9"/>
<circle cx="419.83" cy="376.52" r="1.5" fill="#fff" stroke="#000" stroke-width="0.9"/>
<circle cx="422.60" cy="377.33" r="1.5" fill="#fff" stroke="#000" stroke-width="0.9"/>
<circle cx="425.37" cy="377.46" r="1.5" fill="#fff" stroke="#000" stroke-width="0.9"/>
<circle cx="428.13" cy="376.67" r="1.5" fill="#fff" stroke="#000" stroke-width="0.9"/>
<circle cx="430.90" cy="376.91" r="1.5" fill="#fff" stroke="#000" stroke-width="0.9"/>
<circle cx="433.67" cy="376.43" r="1.5" fill="#fff" stroke="#000" stroke-width="0.9"/>
<circle cx="436.43" cy="376.53" r="1.5" fill="#fff" stroke="#000" stroke-width="0.9"/>
<circle cx="439.20" cy="378.19" r="1.5" fill="#fff" stroke="#000" stroke-width="0.9"/>
<circle cx="441.97" cy="377.75" r="1.5" fill="#fff" stroke="#000" stroke-width="0.9"/>
<circle cx="444.73" cy="378.66" r="1.5" fill="#fff" stroke="#000" stroke-width="0.9"/>
<circle cx="447.50" cy="377.88" r="1.5" fill="#fff" stroke="#000" stroke-width="0.9"/>
<circle cx="450.27" cy="378.95" r="1.5" fill="#fff" stroke="#000" stroke-width="0.9"/>
<circle cx="453.03" cy="379.12" r="1.5" fill="#fff" stroke="#000" stroke-width="0.9"/>
<circle cx="455.80" cy="376.68" r="1.5" fill="#fff" stroke="#000" stroke-width="0.9"/>
<circle cx="458.57" cy="378.40" r="1.5" fill="#fff" stroke="#000" stroke-width="0.9"/>
<circle cx="461.33" cy="378.04" r="1.5" fill="#fff" stroke="#000" stroke-width="0.9"/>
<circle cx="464.10" cy="376.68" r="1.5" fill="#fff" stroke="#000" stroke-width="0.9"/>
<circle cx="466.87" cy="378.12" r="1.5" fill="#fff" stroke="#000" stroke-width="0.9"/>
<circle cx="469.63" cy="378.90" r="1.5" fill="#fff" stroke="#000" stroke-width="0.9"/>
<circle cx="472.40" cy="378.85" r="1.5" fill="#fff" stroke="#000" stroke-width="0.9"/>
<circle cx="475.17" cy="379.55" r="1.5" fill="#fff" stroke="#000" stroke-width="0.9"/>
<circle cx="477.93" cy="378.21" r="1.5" fill="#fff" stroke="#000" stroke-width="0.9"/>
<circle cx="480.70" cy="379.37" r="1.5" fill="#fff" stroke="#000" stroke-width="0.9"/>
<circle cx="483.47" cy="377.84" r="1.5" fill="#fff" stroke="#000" stroke-width="0.9"/>
<circle cx="486.23" cy="379.52" r="1.5" fill="#fff" stroke="#000" stroke-width="0.9"/>
<circle cx="489.00" cy="379.59" r="1.5" fill="#fff" stroke="#000" stroke-width="0.9"/>
<circle cx="491.77" cy="379.71" r="1.5" fill="#fff" stroke="#000" stroke-width="0.9"/>
<circle cx="494.53" cy="378.97" r="1.5" fill="#fff" stroke="#000" stroke-width="0.9"/>
<circle cx="497.30" cy="379.36" r="1.5" fill="#fff" stroke="#000" stroke-width="0.9"/>
<circle cx="500.07" cy="378.51" r="1.5" fill="#fff" stroke="#000" stroke-width="0.9"/>
<circle cx="502.83" cy="380.04" r="1.5" fill="#fff" stroke="#000" stroke-width="0.9"/>
<circle cx="505.60" cy="379.44" r="1.5" fill="#fff" stroke="#000" stroke-width="0.9"/>
<circle cx="508.37" cy="378.22" r="1.5" fill="#fff" stroke="#000" stroke-width="0.9"/>
<circle cx="511.13" cy="379.94" r="1.5" fill="#fff" stroke="#000" stroke-width="0.9"/>
<path d="M306.40,386.16 L309.17,386.14 L311.93,386.05 L314.70,385.88 L317.47,376.53 L320.23,326.45 L323.00,293.62 L325.77,286.33 L328.53,298.54 L331.30,314.31 L334.07,327.95 L336.83,336.74 L339.60,343.62 L342.37,349.96 L345.13,354.67 L347.90,358.06 L350.67,362.28 L353.43,363.48 L356.20,367.08 L358.97,368.01 L361.73,369.96 L364.50,369.14 L367.27,371.19 L370.03,370.21 L372.80,371.11 L375.57,372.24 L378.33,375.58 L381.10,373.85 L383.87,373.68 L386.63,373.80 L389.40,375.99 L392.17,375.11 L394.93,376.05 L397.70,376.22 L400.47,374.41 L403.23,376.90 L406.00,376.34 L408.77,375.61 L411.53,377.62 L414.30,377.38 L417.07,377.41 L419.83,377.74 L422.60,379.48 L425.37,378.23 L428.13,377.00 L430.90,380.57 L433.67,378.02 L436.43,379.07 L439.20,380.13 L441.97,377.25 L444.73,378.83 L447.50,381.24 L450.27,379.90 L453.03,379.45 L455.80,380.45 L458.57,379.56 L461.33,380.53 L464.10,379.79 L466.87,379.00 L469.63,381.53 L472.40,380.61 L475.17,381.45 L477.93,380.84 L480.70,382.41 L483.47,381.75 L486.23,381.35 L489.00,380.13 L491.77,379.89 L494.53,382.77 L497.30,382.19 L500.07,380.56 L502.83,383.62 L505.60,381.88 L508.37,381.47 L511.13,379.91" fill="none" stroke="#000" stroke-width="1.2"/>
<circle cx="306.40" cy="386.16" r="2.2" fill="#000"/>
<circle cx="309.17" cy="386.14" r="2.2" fill="#000"/>
<circle cx="311.93" cy="386.05" r="2.2" fill="#000"/>
<circle cx="314.70" cy="385.88" r="2.2" fill="#000"/>
<circle cx="317.47" cy="376.53" r="2.2" fill="#000"/>
<circle cx="320.23" cy="326.45" r="2.2" fill="#000"/>
<circle cx="323.00" cy="293.62" r="2.2" fill="#000"/>
<circle cx="325.77" cy="286.33" r="2.2" fill="#000"/>
<circle cx="328.53" cy="298.54" r="2.2" fill="#000"/>
<circle cx="331.30" cy="314.31" r="2.2" fill="#000"/>
<circle cx="334.07" cy="327.95" r="2.2" fill="#000"/>
<circle cx="336.83" cy="336.74" r="2.2" fill="#000"/>
<circle cx="339.60" cy="343.62" r="2.2" fill="#000"/>
<circle cx="342.37" cy="349.96" r="2.2" fill="#000"/>
<circle cx="345.13" cy="354.67" r="2.2" fill="#000"/>
<circle cx="347.90" cy="358.06" r="2.2" fill="#000"/>
<circle cx="350.67" cy="362.28" r="2.2" fill="#000"/>
<circle cx="353.43" cy="363.48" r="2.2" fill="#000"/>
<circle cx="356.20" cy="367.08" r="2.2" fill="#000"/>
<circle cx="358.97" cy="368.01" r="2.2" fill="#000"/>
<circle cx="361.73" cy="369.96" r="2.2" fill="#000"/>
<circle cx="364.50" cy="369.14" r="2.2" fill="#000"/>
<circle cx="367.27" cy="371.19" r="2.2" fill="#000"/>
<circle cx="370.03" cy="370.21" r="2.2" fill="#000"/>
<circle cx="372.80" cy="371.11" r="2.2" fill="#000"/>
<circle cx="375.57" cy="372.24" r="2.2" fill="#000"/>
<circle cx="378.33" cy="375.58" r="2.2" fill="#000"/>
<circle cx="381.10" cy="373.85" r="2.2" fill="#000"/>
<circle cx="383.87" cy="373.68" r="2.2" fill="#000"/>
<circle cx="386.63" cy="373.80" r="2.2" fill="#000"/>
<circle cx="389.40" cy="375.99" r="2.2" fill="#000"/>
<circle cx="392.17" cy="375.11" r="2.2" fill="#000"/>
<circle cx="394.93" cy="376.05" r="2.2" fill="#000"/>
<circle cx="397.70" cy="376.22" r="2.2" fill="#000"/>
<circle cx="400.47" cy="374.41" r="2.2" fill="#000"/>
<circle cx="403.23" cy="376.90" r="2.2" fill="#000"/>
<circle cx="406.00" cy="376.34" r="2.2" fill="#000"/>
<circle cx="408.77" cy="375.61" r="2.2" fill="#000"/>
<circle cx="411.53" cy="377.62" r="2.2" fill="#000"/>
<circle cx="414.30" cy="377.38" r="2.2" fill="#000"/>
<circle cx="417.07" cy="377.41" r="2.2" fill="#000"/>
<circle cx="419.83" cy="377.74" r="2.2" fill="#000"/>
<circle cx="422.60" cy="379.48" r="2.2" fill="#000"/>
<circle cx="425.37" cy="378.23" r="2.2" fill="#000"/>
<circle cx="428.13" cy="377.00" r="2.2" fill="#000"/>
<circle cx="430.90" cy="380.57" r="2.2" fill="#000"/>
<circle cx="433.67" cy="378.02" r="2.2" fill="#000"/>
<circle cx="436.43" cy="379.07" r="2.2" fill="#000"/>
<circle cx="439.20" cy="380.13" r="2.2" fill="#000"/>
<circle cx="441.97" cy="377.25" r="2.2" fill="#000"/>
<circle cx="444.73" cy="378.83" r="2.2" fill="#000"/>
<circle cx="447.50" cy="381.24" r="2.2" fill="#000"/>
<circle cx="450.27" cy="379.90" r="2.2" fill="#000"/>
<circle cx="453.03" cy="379.45" r="2.2" fill="#000"/>
<circle cx="455.80" cy="380.45" r="2.2" fill="#000"/>
<circle cx="458.57" cy="379.56" r="2.2" fill="#000"/>
<circle cx="461.33" cy="380.53" r="2.2" fill="#000"/>
<circle cx="464.10" cy="379.79" r="2.2" fill="#000"/>
<circle cx="466.87" cy="379.00" r="2.2" fill="#000"/>
<circle cx="469.63" cy="381.53" r="2.2" fill="#000"/>
<circle cx="472.40" cy="380.61" r="2.2" fill="#000"/>
<circle cx="475.17" cy="381.45" r="2.2" fill="#000"/>
<circle cx="477.93" cy="380.84" r="2.2" fill="#000"/>
<circle cx="480.70" cy="382.41" r="2.2" fill="#000"/>
<circle cx="483.47" cy="381.75" r="2.2" fill="#000"/>
<circle cx="486.23" cy="381.35" r="2.2" fill="#000"/>
<circle cx="489.00" cy="380.13" r="2.2" fill="#000"/>
<circle cx="491.77" cy="379.89" r="2.2" fill="#000"/>
<circle cx="494.53" cy="382.77" r="2.2" fill="#000"/>
<circle cx="497.30" cy="382.19" r="2.2" fill="#000"/>
<circle cx="500.07" cy="380.56" r="2.2" fill="#000"/>
<circle cx="502.83" cy="383.62" r="2.2" fill="#000"/>
<circle cx="505.60" cy="381.88" r="2.2" fill="#000"/>
<circle cx="508.37" cy="381.47" r="2.2" fill="#000"/>
<circle cx="511.13" cy="379.91" r="2.2" fill="#000"/>
<path d="M306.40,386.16 L309.17,386.14 L311.93,386.07 L314.70,385.91 L317.47,381.89 L320.23,333.45 L323.00,300.17 L325.77,289.69 L328.53,299.12 L331.30,314.65 L334.07,329.34 L336.83,338.02 L339.60,344.90 L342.37,351.24 L345.13,355.94 L347.90,359.30 L350.67,360.50 L353.43,362.31 L356.20,366.61 L358.97,366.82 L361.73,370.78 L364.50,371.61 L367.27,371.32 L370.03,371.79 L372.80,374.69 L375.57,375.55 L378.33,373.81 L381.10,375.79 L383.87,373.91 L386.63,375.27 L389.40,375.77 L392.17,376.27 L394.93,375.86 L397.70,377.42 L400.47,376.30 L403.23,378.42 L406.00,378.31 L408.77,379.05 L411.53,377.79 L414.30,378.64 L417.07,379.88 L419.83,376.79 L422.60,379.75 L425.37,379.71 L428.13,379.38 L430.90,378.07 L433.67,380.48 L436.43,379.70 L439.20,380.57 L441.97,382.49 L444.73,380.00 L447.50,379.83 L450.27,381.36 L453.03,381.18 L455.80,382.97 L458.57,383.07 L461.33,381.86 L464.10,380.78 L466.87,382.14 L469.63,381.36 L472.40,380.67 L475.17,381.76 L477.93,381.28 L480.70,380.33 L483.47,383.48 L486.23,381.23 L489.00,384.30 L491.77,381.67 L494.53,381.97 L497.30,382.86 L500.07,383.50 L502.83,382.36 L505.60,382.78 L508.37,382.20 L511.13,383.37" fill="none" stroke="#000" stroke-width="1.2"/>
<polygon points="306.40,383.36 308.90,387.86 303.90,387.86" fill="#000"/>
<polygon points="309.17,383.34 311.67,387.84 306.67,387.84" fill="#000"/>
<polygon points="311.93,383.27 314.43,387.77 309.43,387.77" fill="#000"/>
<polygon points="314.70,383.11 317.20,387.61 312.20,387.61" fill="#000"/>
<polygon points="317.47,379.09 319.97,383.59 314.97,383.59" fill="#000"/>
<polygon points="320.23,330.65 322.73,335.15 317.73,335.15" fill="#000"/>
<polygon points="323.00,297.37 325.50,301.87 320.50,301.87" fill="#000"/>
<polygon points="325.77,286.89 328.27,291.39 323.27,291.39" fill="#000"/>
<polygon points="328.53,296.32 331.03,300.82 326.03,300.82" fill="#000"/>
<polygon points="331.30,311.85 333.80,316.35 328.80,316.35" fill="#000"/>
<polygon points="334.07,326.54 336.57,331.04 331.57,331.04" fill="#000"/>
<polygon points="336.83,335.22 339.33,339.72 334.33,339.72" fill="#000"/>
<polygon points="339.60,342.10 342.10,346.60 337.10,346.60" fill="#000"/>
<polygon points="342.37,348.44 344.87,352.94 339.87,352.94" fill="#000"/>
<polygon points="345.13,353.14 347.63,357.64 342.63,357.64" fill="#000"/>
<polygon points="347.90,356.50 350.40,361.00 345.40,361.00" fill="#000"/>
<polygon points="350.67,357.70 353.17,362.20 348.17,362.20" fill="#000"/>
<polygon points="353.43,359.51 355.93,364.01 350.93,364.01" fill="#000"/>
<polygon points="356.20,363.81 358.70,368.31 353.70,368.31" fill="#000"/>
<polygon points="358.97,364.02 361.47,368.52 356.47,368.52" fill="#000"/>
<polygon points="361.73,367.98 364.23,372.48 359.23,372.48" fill="#000"/>
<polygon points="364.50,368.81 367.00,373.31 362.00,373.31" fill="#000"/>
<polygon points="367.27,368.52 369.77,373.02 364.77,373.02" fill="#000"/>
<polygon points="370.03,368.99 372.53,373.49 367.53,373.49" fill="#000"/>
<polygon points="372.80,371.89 375.30,376.39 370.30,376.39" fill="#000"/>
<polygon points="375.57,372.75 378.07,377.25 373.07,377.25" fill="#000"/>
<polygon points="378.33,371.01 380.83,375.51 375.83,375.51" fill="#000"/>
<polygon points="381.10,372.99 383.60,377.49 378.60,377.49" fill="#000"/>
<polygon points="383.87,371.11 386.37,375.61 381.37,375.61" fill="#000"/>
<polygon points="386.63,372.47 389.13,376.97 384.13,376.97" fill="#000"/>
<polygon points="389.40,372.97 391.90,377.47 386.90,377.47" fill="#000"/>
<polygon points="392.17,373.47 394.67,377.97 389.67,377.97" fill="#000"/>
<polygon points="394.93,373.06 397.43,377.56 392.43,377.56" fill="#000"/>
<polygon points="397.70,374.62 400.20,379.12 395.20,379.12" fill="#000"/>
<polygon points="400.47,373.50 402.97,378.00 397.97,378.00" fill="#000"/>
<polygon points="403.23,375.62 405.73,380.12 400.73,380.12" fill="#000"/>
<polygon points="406.00,375.51 408.50,380.01 403.50,380.01" fill="#000"/>
<polygon points="408.77,376.25 411.27,380.75 406.27,380.75" fill="#000"/>
<polygon points="411.53,374.99 414.03,379.49 409.03,379.49" fill="#000"/>
<polygon points="414.30,375.84 416.80,380.34 411.80,380.34" fill="#000"/>
<polygon points="417.07,377.08 419.57,381.58 414.57,381.58" fill="#000"/>
<polygon points="419.83,373.99 422.33,378.49 417.33,378.49" fill="#000"/>
<polygon points="422.60,376.95 425.10,381.45 420.10,381.45" fill="#000"/>
<polygon points="425.37,376.91 427.87,381.41 422.87,381.41" fill="#000"/>
<polygon points="428.13,376.58 430.63,381.08 425.63,381.08" fill="#000"/>
<polygon points="430.90,375.27 433.40,379.77 428.40,379.77" fill="#000"/>
<polygon points="433.67,377.68 436.17,382.18 431.17,382.18" fill="#000"/>
<polygon points="436.43,376.90 438.93,381.40 433.93,381.40" fill="#000"/>
<polygon points="439.20,377.77 441.70,382.27 436.70,382.27" fill="#000"/>
<polygon points="441.97,379.69 444.47,384.19 439.47,384.19" fill="#000"/>
<polygon points="444.73,377.20 447.23,381.70 442.23,381.70" fill="#000"/>
<polygon points="447.50,377.03 450.00,381.53 445.00,381.53" fill="#000"/>
<polygon points="450.27,378.56 452.77,383.06 447.77,383.06" fill="#000"/>
<polygon points="453.03,378.38 455.53,382.88 450.53,382.88" fill="#000"/>
<polygon points="455.80,380.17 458.30,384.67 453.30,384.67" fill="#000"/>
<polygon points="458.57,380.27 461.07,384.77 456.07,384.77" fill="#000"/>
<polygon points="461.33,379.06 463.83,383.56 458.83,383.56" fill="#000"/>
<polygon points="464.10,377.98 466.60,382.48 461.60,382.48" fill="#000"/>
<polygon points="466.87,379.34 469.37,383.84 464.37,383.84" fill="#000"/>
<polygon points="469.63,378.56 472.13,383.06 467.13,383.06" fill="#000"/>
<polygon points="472.40,377.87 474.90,382.37 469.90,382.37" fill="#000"/>
<polygon points="475.17,378.96 477.67,383.46 472.67,383.46" fill="#000"/>
<polygon points="477.93,378.48 480.43,382.98 475.43,382.98" fill="#000"/>
<polygon points="480.70,377.53 483.20,382.03 478.20,382.03" fill="#000"/>
<polygon points="483.47,380.68 485.97,385.18 480.97,385.18" fill="#000"/>
<polygon points="486.23,378.43 488.73,382.93 483.73,382.93" fill="#000"/>
<polygon points="489.00,381.50 491.50,386.00 486.50,386.00" fill="#000"/>
<polygon points="491.77,378.87 494.27,383.37 489.27,383.37" fill="#000"/>
<polygon points="494.53,379.17 497.03,383.67 492.03,383.67" fill="#000"/>
<polygon points="497.30,380.06 499.80,384.56 494.80,384.56" fill="#000"/>
<polygon points="500.07,380.70 502.57,385.20 497.57,385.20" fill="#000"/>
<polygon points="502.83,379.56 505.33,384.06 500.33,384.06" fill="#000"/>
<polygon points="505.60,379.98 508.10,384.48 503.10,384.48" fill="#000"/>
<polygon points="508.37,379.40 510.87,383.90 505.87,383.90" fill="#000"/>
<polygon points="511.13,380.57 513.63,385.07 508.63,385.07" fill="#000"/>
</g>
<text x="-0.2" y="236.3" font-size="21.5" font-weight="bold">C</text>
<rect x="51.8" y="247.7" width="205.89999999999998" height="138.8" fill="none" stroke="#000" stroke-width="3"/>
<rect x="53.199999999999996" y="257.8" width="1.6" height="2" fill="#000"/>
<rect x="53.199999999999996" y="289.8" width="1.6" height="2" fill="#000"/>
<rect x="53.199999999999996" y="321.8" width="1.6" height="2" fill="#000"/>
<rect x="53.199999999999996" y="353.8" width="1.6" height="2" fill="#000"/>
<rect x="306.0" y="247.7" width="207.0" height="138.8" fill="none" stroke="#000" stroke-width="3"/>
<rect x="307.4" y="257.8" width="1.6" height="2" fill="#000"/>
<rect x="307.4" y="289.8" width="1.6" height="2" fill="#000"/>
<rect x="307.4" y="321.8" width="1.6" height="2" fill="#000"/>
<rect x="307.4" y="353.8" width="1.6" height="2" fill="#000"/>
<text x="44.3" y="265.9" font-size="11" font-weight="normal" font-style="normal" text-anchor="end"  stroke="#000" stroke-width="0.22">200</text>
<text x="44.3" y="297.4" font-size="11" font-weight="normal" font-style="normal" text-anchor="end"  stroke="#000" stroke-width="0.22">150</text>
<text x="44.2" y="329.5" font-size="11" font-weight="normal" font-style="normal" text-anchor="end"  stroke="#000" stroke-width="0.22">100</text>
<text x="42.8" y="360.5" font-size="11" font-weight="normal" font-style="normal" text-anchor="end"  stroke="#000" stroke-width="0.22">50</text>
<text x="40.9" y="392.3" font-size="11" font-weight="normal" font-style="normal" text-anchor="end"  stroke="#000" stroke-width="0.22">0</text>
<text x="299.3" y="265.9" font-size="11" font-weight="normal" font-style="normal" text-anchor="end"  stroke="#000" stroke-width="0.22">200</text>
<text x="299.3" y="297.8" font-size="11" font-weight="normal" font-style="normal" text-anchor="end"  stroke="#000" stroke-width="0.22">150</text>
<text x="299.3" y="329.4" font-size="11" font-weight="normal" font-style="normal" text-anchor="end"  stroke="#000" stroke-width="0.22">100</text>
<text x="297.0" y="360.4" font-size="11" font-weight="normal" font-style="normal" text-anchor="end"  stroke="#000" stroke-width="0.22">50</text>
<text x="295.7" y="392.3" font-size="11" font-weight="normal" font-style="normal" text-anchor="end"  stroke="#000" stroke-width="0.22">0</text>
<text x="52.4" y="403.7" font-size="11" font-weight="normal" font-style="normal" text-anchor="middle"  stroke="#000" stroke-width="0.22">0</text>
<text x="93.85" y="403.7" font-size="11" font-weight="normal" font-style="normal" text-anchor="middle"  stroke="#000" stroke-width="0.22">5</text>
<text x="136.35" y="403.7" font-size="11" font-weight="normal" font-style="normal" text-anchor="middle"  stroke="#000" stroke-width="0.22">10</text>
<text x="177.45" y="403.7" font-size="11" font-weight="normal" font-style="normal" text-anchor="middle"  stroke="#000" stroke-width="0.22">15</text>
<text x="218.45" y="403.7" font-size="11" font-weight="normal" font-style="normal" text-anchor="middle"  stroke="#000" stroke-width="0.22">20</text>
<text x="259.9" y="403.7" font-size="11" font-weight="normal" font-style="normal" text-anchor="middle"  stroke="#000" stroke-width="0.22">25</text>
<text x="306.85" y="403.7" font-size="11" font-weight="normal" font-style="normal" text-anchor="middle"  stroke="#000" stroke-width="0.22">0</text>
<text x="348.75" y="403.7" font-size="11" font-weight="normal" font-style="normal" text-anchor="middle"  stroke="#000" stroke-width="0.22">5</text>
<text x="390.9" y="403.7" font-size="11" font-weight="normal" font-style="normal" text-anchor="middle"  stroke="#000" stroke-width="0.22">10</text>
<text x="432.35" y="403.7" font-size="11" font-weight="normal" font-style="normal" text-anchor="middle"  stroke="#000" stroke-width="0.22">15</text>
<text x="472.75" y="403.7" font-size="11" font-weight="normal" font-style="normal" text-anchor="middle"  stroke="#000" stroke-width="0.22">20</text>
<text x="514.3" y="403.7" font-size="11" font-weight="normal" font-style="normal" text-anchor="middle"  stroke="#000" stroke-width="0.22">25</text>
<text x="167.3" y="418.9" font-size="12.6" font-weight="normal" font-style="normal" text-anchor="middle"  stroke="#000" stroke-width="0.22">Time (min)</text>
<text x="421.1" y="418.9" font-size="12.6" font-weight="normal" font-style="normal" text-anchor="middle"  stroke="#000" stroke-width="0.22">Time (min)</text>
<text transform="translate(19.4,311.9) rotate(-90)" x="0" y="0" font-size="11.6" stroke="#000" stroke-width="0.22" text-anchor="middle">Thrombin (nM)</text>
<text x="216.2" y="271.1" font-size="16" font-weight="bold" font-style="normal" text-anchor="start" >WT</text>
<text x="455.5" y="270.6" font-size="16" font-weight="bold" font-style="italic">Pros<tspan font-size="11.5" dx="3.0" dy="-4.7">+/-</tspan></text>
</svg>
</body></html>
